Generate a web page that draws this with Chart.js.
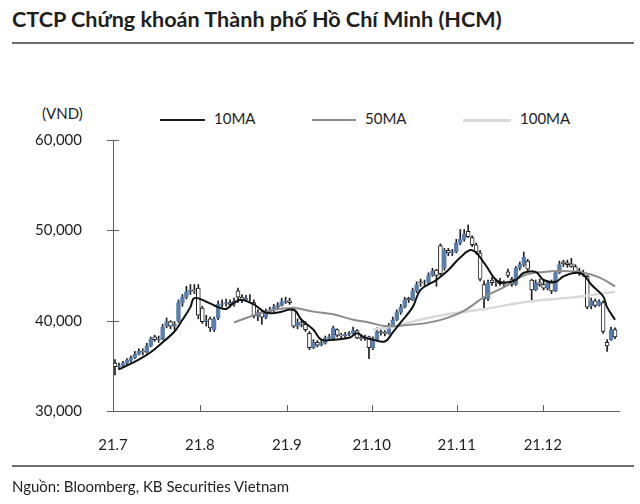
<!DOCTYPE html>
<html>
<head>
<meta charset="utf-8">
<script src="https://cdn.jsdelivr.net/npm/chart.js@4.4.1/dist/chart.umd.min.js"></script>
<style>
  body { margin: 0; width: 640px; height: 504px; background: #fff; position: relative; overflow: hidden;
         font-family: Lato, "Noto Sans", sans-serif; color: #1e1e1e; }
  #title { position: absolute; left: 12px; top: 6px; font-size: 21.6px; font-weight: bold; white-space: nowrap; }
  .rule { position: absolute; left: 12px; width: 622px; height: 2px; background: #6e6e6e; }
  #unit { position: absolute; left: 42px; top: 104px; font-size: 15px; }
  .lg { position: absolute; top: 109px; font-size: 15px; white-space: nowrap; }
  .lg i { display: inline-block; vertical-align: middle; margin-right: 9px; }
  #source { position: absolute; left: 12px; top: 477px; font-size: 15px; white-space: nowrap; }
  #wrap { position: absolute; left: 0; top: 0; width: 640px; height: 504px; }
</style>
</head>
<body>
<div id="title">CTCP Chứng khoán Thành phố Hồ Chí Minh (HCM)</div>
<div class="rule" style="top:42px"></div>
<div id="unit">(VND)</div>
<div class="lg" style="left:160px"><i style="width:45px;height:2px;background:#1a1a1a"></i>10MA</div>
<div class="lg" style="left:312px"><i style="width:44px;height:2px;background:#8c8c8c"></i>50MA</div>
<div class="lg" style="left:463px"><i style="width:48px;height:3px;background:#d9d9d9"></i>100MA</div>
<div id="wrap"><canvas id="myChart"></canvas></div>
<div class="rule" style="top:465px"></div>
<div id="source">Nguồn: Bloomberg, KB Securities Vietnam</div>

<script>
// daily candles, Jul - Dec 2021 (VND)
const opens = [35300,34900,35000,35300,35600,35900,36300,36600,36500,37200,
  38200,37900,38000,39400,39900,39400,40000,42000,42600,43200,
  43400,43600,41400,39900,40200,39000,40300,41800,41900,42000,
  41800,43300,42600,42300,42500,42000,40500,40900,40400,41000,
  41200,41500,41700,42100,42200,41200,39400,39800,39600,38600,
  37000,37600,37300,37500,38100,37900,39000,38400,38300,38500,
  38600,38900,38100,38000,38200,37000,37900,38800,38700,38600,
  39400,40100,40900,41500,42500,42300,43300,44300,44200,44200,
  45000,45600,48300,45800,47800,47500,47600,48600,49000,49900,
  49200,48400,47500,44000,42400,44500,44200,44300,44100,45400,
  44600,44000,45800,46200,46600,44500,43400,44200,44000,43600,
  44200,43300,45300,46500,46400,46300,46000,45500,45300,44900,
  41600,42200,41700,42000,37600,37900,39000];
const highs = [35700,35300,35500,35800,36100,36600,36900,36900,37500,38200,
  38400,38300,39600,40300,40000,39900,42300,42900,43800,44000,
  44000,44000,41600,40600,40400,40400,42200,42300,42400,42300,
  42500,43600,42900,42800,42900,42300,41200,41100,41300,41500,
  41800,42000,42500,42600,42500,41500,40200,40000,39900,38800,
  37900,37800,37800,38300,38500,39400,39100,38600,38700,38800,
  39300,39000,38300,38400,38300,38200,39200,39000,38900,39700,
  40400,41200,41800,42600,42600,43600,44300,44600,44500,45300,
  45800,45700,48500,48000,48000,47900,49000,50100,50100,50600,
  49400,48600,47800,44400,44500,44800,44600,44700,44400,45700,
  44800,46000,46500,47600,46800,44600,44500,44600,44500,44400,
  44500,45500,46600,46700,46700,46900,46200,45800,45600,45000,
  42500,42400,42300,42200,37900,39300,39200];
const lows = [34000,34600,34900,35100,35400,35800,36200,36200,36400,37100,
  37700,37600,37900,39200,39100,39000,39800,41600,42400,42900,
  43000,40200,39700,39400,38800,38800,40100,41500,41600,41500,
  41600,42000,42000,42100,42200,40300,40000,39600,40200,40800,
  41000,41300,41600,41900,41800,39200,39100,39300,38800,36800,
  36900,37100,37200,37400,37900,37800,38200,38100,38100,38300,
  38500,38000,37800,37800,35800,36800,37800,38400,38300,38500,
  39300,40000,40700,41400,42000,42200,43100,43800,43900,44000,
  44900,43800,45000,45600,47200,47200,47500,48400,48800,49200,
  48200,47400,44400,41200,42200,43900,43800,43900,43700,44800,
  43800,43900,45600,46000,45500,42300,43300,43800,43400,43400,
  43000,43200,45200,46000,45900,45900,45200,45000,44900,41300,
  41300,41500,41600,38600,36600,37800,38000];
const closes = [34900,35000,35300,35600,35900,36300,36600,36500,37200,38000,
  37900,38000,39300,39900,39400,39600,42000,42600,43200,43400,
  43300,40600,39900,40000,39200,40200,41800,41900,42000,41800,
  42200,42600,42300,42500,42500,40500,40900,40400,41000,41200,
  41500,41700,42100,42200,42000,39400,39800,39600,39000,37000,
  37600,37300,37500,38100,38200,39200,38400,38300,38500,38600,
  38900,38100,38000,38200,37000,37900,38800,38700,38600,39400,
  40100,40900,41500,42300,42300,43300,44000,44200,44200,45000,
  45500,45000,45200,47800,47500,47600,48600,49000,49600,49300,
  48400,47600,44600,42400,44200,44200,44300,44100,44000,45000,
  44000,45800,46200,47000,45700,43400,44200,44000,43600,44200,
  43300,45300,46200,46300,46200,46000,45400,45300,45200,41500,
  42200,41700,42100,38800,37200,39000,38200];

// moving averages, sampled along the drawn lines (trading-day index, VND)
const ma10Days = [1,6,9,12,15,17,19,20,23,26,28,30,32,35,38,41,45,47,50,52,
  55,59,61,63,65,68,70,72,75,77,81,84,87,90,93,96,98,101,103,106,
  108,111,113,116,118,120,123,124,126];
const ma10 = [34600,35700,36500,37600,38800,40100,41500,42500,42100,41500,
  41300,42000,42300,41800,40900,40900,41200,40100,39000,37900,
  37900,38100,38600,38100,37900,37700,38700,39800,41500,43400,
  44500,45600,47000,47800,46400,44500,44200,44500,45300,45400,
  44500,44300,44900,45300,45100,44000,42700,41500,40100];
const ma50Days = [30,35,40,45,50,55,60,64,68,73,78,83,88,93,98,103,108,113,118,122,126];
const ma50 = [39800,40600,41200,41400,41000,40700,40100,39800,39400,39500,
  39700,40200,41100,42600,43700,45000,45400,45500,45300,44800,43800];
const ma100Days = [65,68,71,75,80,85,90,96,101,106,111,116,121,126];
const ma100 = [39000,39200,39400,39900,40400,40800,41100,41500,41900,42200,42400,42600,42900,43200];

// month ticks (trading-day index where each month label sits)
const monthTicks = [-0.5, 21.4, 43.3, 64.7, 86.1, 107.8];
const monthLabels = ["21.7", "21.8", "21.9", "21.10", "21.11", "21.12"];

const BLUE = "#5a7eae";
const INK = "#1e1e1e";
const AXIS = "#5f5f5f";

const days = closes.map((c, i) => i);
const isUp = (i) => closes[i] > opens[i];

// axis tick marks like the original: crossing on y, pointing inward on x
const tickMarks = {
  id: "tickMarks",
  afterDraw(chart) {
    const c = chart.ctx, x = chart.scales.x, y = chart.scales.y;
    c.save();
    c.strokeStyle = AXIS;
    c.lineWidth = 1;
    c.beginPath();
    y.ticks.forEach((t) => {
      const py = Math.round(y.getPixelForValue(t.value)) + 0.5;
      c.moveTo(x.left - 6, py);
      c.lineTo(x.left + 6, py);
    });
    monthTicks.slice(1).forEach((v) => {
      const px = Math.round(x.getPixelForValue(v)) + 0.5;
      c.moveTo(px, y.bottom);
      c.lineTo(px, y.bottom - 6);
    });
    c.stroke();
    c.restore();
  },
};

const config = {
  type: "bar",
  data: {
    datasets: [
      {
        type: "line",
        label: "10MA",
        data: ma10Days.map((d, k) => ({ x: d, y: ma10[k] })),
        borderColor: "#111",
        borderWidth: 2,
        pointRadius: 0,
        tension: 0.4,
        order: 0,
      },
      {
        type: "line",
        label: "50MA",
        data: ma50Days.map((d, k) => ({ x: d, y: ma50[k] })),
        borderColor: "#8c8c8c",
        borderWidth: 2,
        pointRadius: 0,
        tension: 0.4,
        order: 1,
      },
      {
        type: "line",
        label: "100MA",
        data: ma100Days.map((d, k) => ({ x: d, y: ma100[k] })),
        borderColor: "#d9d9d9",
        borderWidth: 2.5,
        pointRadius: 0,
        tension: 0.4,
        order: 2,
      },
      {
        label: "wick",
        data: days.map((i) => ({ x: i, y: [lows[i], highs[i]] })),
        backgroundColor: INK,
        barThickness: 1,
        grouped: false,
        order: 4,
      },
      {
        label: "body",
        data: days.map((i) => ({ x: i, y: [opens[i], closes[i]] })),
        backgroundColor: (ctx) => (isUp(ctx.dataIndex) ? BLUE : "#fff"),
        borderColor: (ctx) => (isUp(ctx.dataIndex) ? BLUE : INK),
        borderWidth: 1,
        borderSkipped: false,
        barThickness: 4,
        grouped: false,
        order: 3,
      },
    ],
  },
  options: {
    responsive: true,
    maintainAspectRatio: false,
    animation: false,
    layout: { padding: { top: 140, right: 21, bottom: 43, left: 0 } },
    plugins: { legend: { display: false }, tooltip: { enabled: false } },
    scales: {
      x: {
        type: "linear",
        min: -0.5,
        max: 127,
        offset: false,
        afterBuildTicks: (s) => { s.ticks = monthTicks.map((v) => ({ value: v })); },
        afterFit: (s) => { s.height = 50; },
        grid: { display: false, offset: false },
        border: { color: AXIS, width: 1 },
        ticks: {
          autoSkip: false,
          maxRotation: 0,
          padding: 17,
          color: INK,
          font: { family: "Lato, 'Noto Sans', sans-serif", size: 15 },
          callback: (v, idx) => monthLabels[idx],
        },
      },
      y: {
        min: 30000,
        max: 60000,
        afterFit: (s) => { s.width = 113; },
        grid: { display: false },
        border: { color: AXIS, width: 1 },
        ticks: {
          stepSize: 10000,
          padding: 23,
          color: INK,
          font: { family: "Lato, 'Noto Sans', sans-serif", size: 15 },
          callback: (v) => v.toLocaleString("en-US"),
        },
      },
    },
  },
  plugins: [tickMarks],
};

const myChart = new Chart(document.getElementById("myChart"), config);
</script>
</body>
</html>
